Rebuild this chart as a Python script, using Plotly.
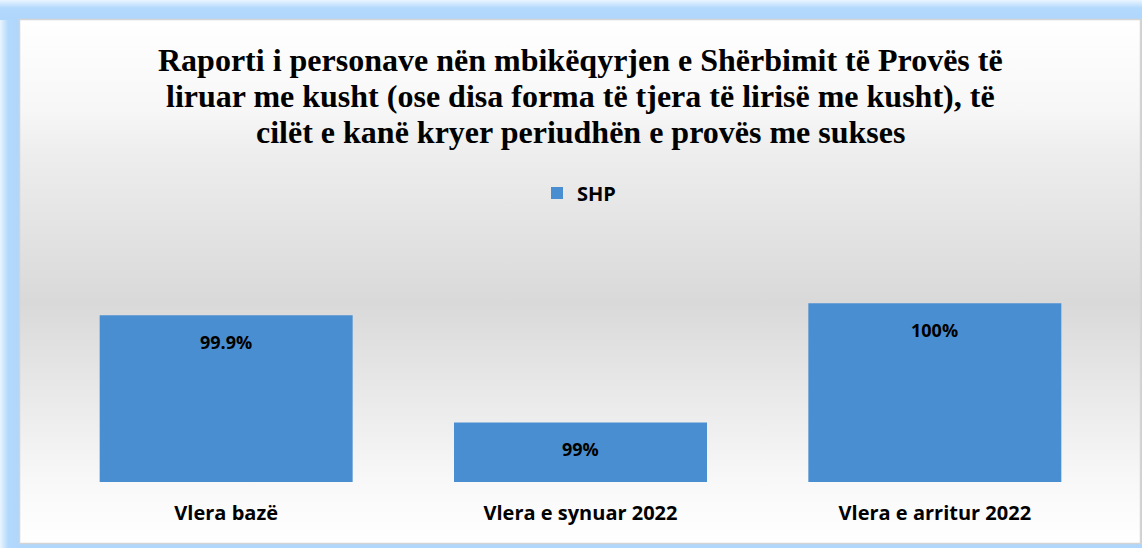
import base64

import plotly.graph_objects as go

CATEGORIES = ["Vlera bazë", "Vlera e synuar 2022", "Vlera e arritur 2022"]
SHP_VALUES = [99.9, 99.0, 100.0]
SHP_LABELS = ["99.9%", "99%", "100%"]

TITLE_LINES = [
    "Raporti i personave nën mbikëqyrjen e Shërbimit të Provës të",
    "liruar me kusht (ose disa forma të tjera të lirisë me kusht), të",
    "cilët e kanë kryer periudhën e provës me sukses",
]

W, H = 1142, 548
M_L, M_R, M_T, M_B = 49, 30, 220, 66
PLOT_W = W - M_L - M_R
PLOT_H = H - M_T - M_B

SANS = "Open Sans"


def py(px_from_top):
    """pixel row from the top of the figure -> paper y"""
    return 1 + (M_T - px_from_top) / PLOT_H


def px_(px_from_left):
    return (px_from_left - M_L) / PLOT_W


# background: blue glow frame + grey vertical gradient inside (as an svg image)
bg_svg = f"""<svg xmlns="http://www.w3.org/2000/svg" width="{W}" height="{H}" viewBox="0 0 {W} {H}">
<defs>
<linearGradient id="g" x1="0" y1="0" x2="0" y2="1">
<stop offset="0" stop-color="#ffffff"/>
<stop offset="0.17" stop-color="#f7f7f7"/>
<stop offset="0.25" stop-color="#eeeeee"/>
<stop offset="0.54" stop-color="#d9d9d9"/>
<stop offset="0.88" stop-color="#f8f8f8"/>
<stop offset="1" stop-color="#ffffff"/>
</linearGradient>
<linearGradient id="gl" x1="0" y1="0" x2="1" y2="0">
<stop offset="0" stop-color="#eaf5ff"/>
<stop offset="0.4" stop-color="#b3d9fd"/>
<stop offset="1" stop-color="#afd6fb"/>
</linearGradient>
<linearGradient id="gt" x1="0" y1="0" x2="0" y2="1">
<stop offset="0" stop-color="#eaf5ff"/>
<stop offset="0.4" stop-color="#b3d9fd"/>
<stop offset="1" stop-color="#afd6fb"/>
</linearGradient>
</defs>
<rect x="0" y="0" width="{W}" height="{H}" fill="#afd6fb"/>
<rect x="0" y="0" width="20" height="{H}" fill="url(#gl)"/>
<rect x="0" y="0" width="{W}" height="20" fill="url(#gt)"/>
<rect x="19.5" y="19.5" width="1121" height="524" fill="url(#g)" stroke="#d4d4d4" stroke-width="1.5"/>
</svg>"""
bg_src = "data:image/svg+xml;base64," + base64.b64encode(bg_svg.encode("utf-8")).decode("ascii")

fig = go.Figure()

fig.add_trace(go.Bar(
    x=CATEGORIES,
    y=SHP_VALUES,
    name="SHP",
    marker=dict(color="#4a8ed2", line=dict(width=0)),
    hoverinfo="x+y",
))

# data labels, inside the bar near its top
for cat, val, lab in zip(CATEGORIES, SHP_VALUES, SHP_LABELS):
    fig.add_annotation(
        x=cat, y=val, text=lab, showarrow=False,
        yanchor="middle", yshift=-27,
        font=dict(family=SANS, size=18, color="#000000", weight="bold"),
    )

# title, one annotation per line (tighter line spacing than plotly's title)
for i, line in enumerate(TITLE_LINES):
    fig.add_annotation(
        text=line, showarrow=False,
        xref="paper", yref="paper",
        x=px_(580), xanchor="center",
        y=py(60 + 36 * i), yanchor="middle",
        font=dict(family="Liberation Serif", size=32, color="#000000", weight="bold"),
    )

fig.add_layout_image(
    source=bg_src,
    xref="paper", yref="paper",
    x=-M_L / PLOT_W, y=1 + M_T / PLOT_H,
    sizex=W / PLOT_W, sizey=H / PLOT_H,
    xanchor="left", yanchor="top",
    sizing="stretch", layer="below",
)

fig.update_layout(
    width=W,
    height=H,
    margin=dict(l=M_L, r=M_R, t=M_T, b=M_B),
    paper_bgcolor="#afd6fb",
    plot_bgcolor="rgba(0,0,0,0)",
    bargap=0.286,
    showlegend=True,
    legend=dict(
        orientation="h",
        x=px_(537), xanchor="left",
        y=py(193), yanchor="middle",
        font=dict(family=SANS, size=20, color="#000000", weight="bold"),
        bgcolor="rgba(0,0,0,0)",
        itemwidth=30,
    ),
    xaxis=dict(
        showgrid=False, showline=False, zeroline=False,
        ticks="", ticklabelstandoff=17,
        tickfont=dict(family=SANS, size=20, color="#000000", weight="bold"),
    ),
    yaxis=dict(
        visible=False, range=[98.5, 100.7], showgrid=False, zeroline=False,
    ),
)

fig.write_html(
    "out.html",
    config={"displayModeBar": False},
    post_script="document.body.style.margin='0';",
)
